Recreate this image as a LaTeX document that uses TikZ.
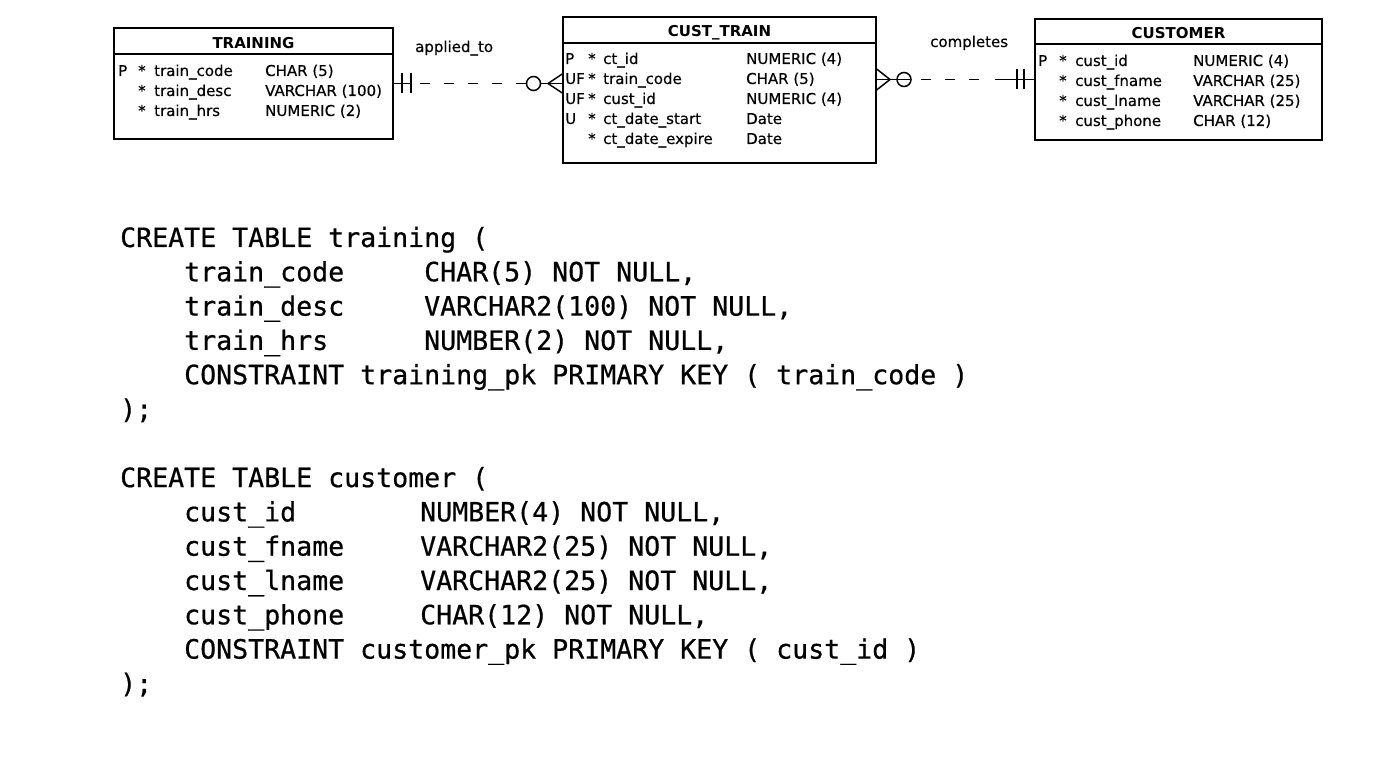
\documentclass[tikz,border=0pt]{standalone}
\usepackage{fontspec}
\newfontfamily\erfont[FakeBold=0.4]{DejaVu Sans}
\newfontfamily\erbfont{DejaVu Sans Bold}
\newfontfamily\sqlfont[FakeBold=0.6]{DejaVu Sans Mono}
\usetikzlibrary{calc}
\begin{document}
\begin{tikzpicture}[x=1pt,y=-1pt,
  tbl/.style={draw, line width=1.5pt, anchor=north west, inner sep=0pt, outer sep=0pt},
  er/.style={anchor=base west, inner sep=0pt, font=\erfont\fontsize{15}{17}\selectfont},
  ttl/.style={anchor=base, inner sep=0pt, font=\erbfont\fontsize{15}{17}\selectfont},
  sql/.style={anchor=base west, inner sep=0pt, font=\sqlfont\fontsize{26.58}{30}\selectfont},
  rel/.style={line width=1.5pt},
  reldash/.style={line width=1.5pt, dash pattern=on 10pt off 14pt},
]
\useasboundingbox (0,0) rectangle (1399,783);

% ---------- tables ----------
\node[tbl, minimum width=279pt, minimum height=111pt] (tr) at (114,28) {};
\draw[line width=1.5pt] ($(tr.north west)+(0,26)$) -- ($(tr.north east)+(0,26)$);
\node[ttl] (trt) at (253.5,49) {TRAINING};

\node[tbl, minimum width=313pt, minimum height=146pt] (ct) at (563,17) {};
\draw[line width=1.5pt] ($(ct.north west)+(0,26)$) -- ($(ct.north east)+(0,26)$);
\node[ttl] (ctt) at (719.5,37) {CUST\_TRAIN};

\node[tbl, minimum width=287pt, minimum height=121pt] (cu) at (1035,19) {};
\draw[line width=1.5pt] ($(cu.north west)+(0,25)$) -- ($(cu.north east)+(0,25)$);
\node[ttl] (cut) at (1178.5,39) {CUSTOMER};

% TRAINING rows
\foreach \k/\n/\t [count=\i from 0] in {P/train\_code/{CHAR (5)}, /train\_desc/{VARCHAR (100)}, /train\_hrs/{NUMERIC (2)}}{
  \node[er] (trk\i) at (118,76+20*\i) {\k};
  \node[er] (trs\i) at (138,76+20*\i) {*};
  \node[er] (trn\i) at (154,76+20*\i) {\n};
  \node[er] (trty\i) at (265,76+20*\i) {\t};
}
% CUST_TRAIN rows
\foreach \k/\n/\t [count=\i from 0] in {P/ct\_id/{NUMERIC (4)}, UF/train\_code/{CHAR (5)}, UF/cust\_id/{NUMERIC (4)}, U/ct\_date\_start/Date, /ct\_date\_expire/Date}{
  \node[er] (ctk\i) at (565,64+20*\i) {\k};
  \node[er] (cts\i) at (588,64+20*\i) {*};
  \node[er] (ctn\i) at (603,64+20*\i) {\n};
  \node[er] (ctty\i) at (746,64+20*\i) {\t};
}
% CUSTOMER rows
\foreach \k/\n/\t [count=\i from 0] in {P/cust\_id/{NUMERIC (4)}, /cust\_fname/{VARCHAR (25)}, /cust\_lname/{VARCHAR (25)}, /cust\_phone/{CHAR (12)}}{
  \node[er] (cuk\i) at (1038,66+20*\i) {\k};
  \node[er] (cus\i) at (1059,66+20*\i) {*};
  \node[er] (cun\i) at (1075,66+20*\i) {\n};
  \node[er] (cuty\i) at (1193,66+20*\i) {\t};
}

% ---------- relationship: applied_to ----------
\coordinate (c1a) at (tr.east);
\coordinate (c1b) at (ct.west |- tr.east);
\draw[rel] (c1a) -- ($(c1a)+(18,0)$);
\draw[rel] ($(c1a)+(9,-10)$) -- ($(c1a)+(9,10)$);
\draw[rel] ($(c1a)+(18,-10)$) -- ($(c1a)+(18,10)$);
\draw[reldash] ($(c1a)+(27,0)$) -- ($(c1a)+(109,0)$);
\draw[rel] ($(c1a)+(123,0)$) -- ($(c1b)+(-36.5,0)$);
\draw[rel] ($(c1b)+(-29.5,0)$) circle (7pt);
\draw[rel] ($(c1b)+(-22.5,0)$) -- (c1b);
\draw[rel] ($(c1b)+(0,-10)$) -- ($(c1b)+(-15,0)$) -- ($(c1b)+(0,10)$);
\node[er] (l1) at (415,52) {applied\_to};

% ---------- relationship: completes ----------
\coordinate (c2b) at (cu.west);
\coordinate (c2a) at (ct.east |- cu.west);
\draw[rel] (c2a) -- ($(c2a)+(35,0)$);
\draw[rel] ($(c2a)+(0,-11)$) -- ($(c2a)+(14,0)$) -- ($(c2a)+(0,11)$);
\draw[rel] ($(c2a)+(28,0)$) circle (7pt);
\draw[reldash] ($(c2a)+(45,0)$) -- ($(c2a)+(103,0)$);
\draw[rel] ($(c2b)+(-40,0)$) -- (c2b);
\draw[rel] ($(c2b)+(-18,-10)$) -- ($(c2b)+(-18,10)$);
\draw[rel] ($(c2b)+(-11,-10)$) -- ($(c2b)+(-11,10)$);
\node[er] (l2) at (930,47) {completes};

% ---------- SQL ----------
\node[sql] (q0) at (120,247) {CREATE TABLE training (};
\node[sql] (q1a) at (184,281.3) {train\_code};
\node[sql] (q1b) at (424,281.3) {CHAR(5) NOT NULL,};
\node[sql] (q2a) at (184,315.6) {train\_desc};
\node[sql] (q2b) at (424,315.6) {VARCHAR2(100) NOT NULL,};
\node[sql] (q3a) at (184,349.9) {train\_hrs};
\node[sql] (q3b) at (424,349.9) {NUMBER(2) NOT NULL,};
\node[sql] (q4) at (184,384.2) {CONSTRAINT training\_pk PRIMARY KEY ( train\_code )};
\node[sql] (q5) at (120,418.5) {);};

\node[sql] (r0) at (120,487.1) {CREATE TABLE customer (};
\node[sql] (r1a) at (184,521.4) {cust\_id};
\node[sql] (r1b) at (420,521.4) {NUMBER(4) NOT NULL,};
\node[sql] (r2a) at (184,555.7) {cust\_fname};
\node[sql] (r2b) at (420,555.7) {VARCHAR2(25) NOT NULL,};
\node[sql] (r3a) at (184,590) {cust\_lname};
\node[sql] (r3b) at (420,590) {VARCHAR2(25) NOT NULL,};
\node[sql] (r4a) at (184,624.3) {cust\_phone};
\node[sql] (r4b) at (420,624.3) {CHAR(12) NOT NULL,};
\node[sql] (r5) at (184,658.6) {CONSTRAINT customer\_pk PRIMARY KEY ( cust\_id )};
\node[sql] (r6) at (120,692.9) {);};
\end{tikzpicture}
\end{document}
